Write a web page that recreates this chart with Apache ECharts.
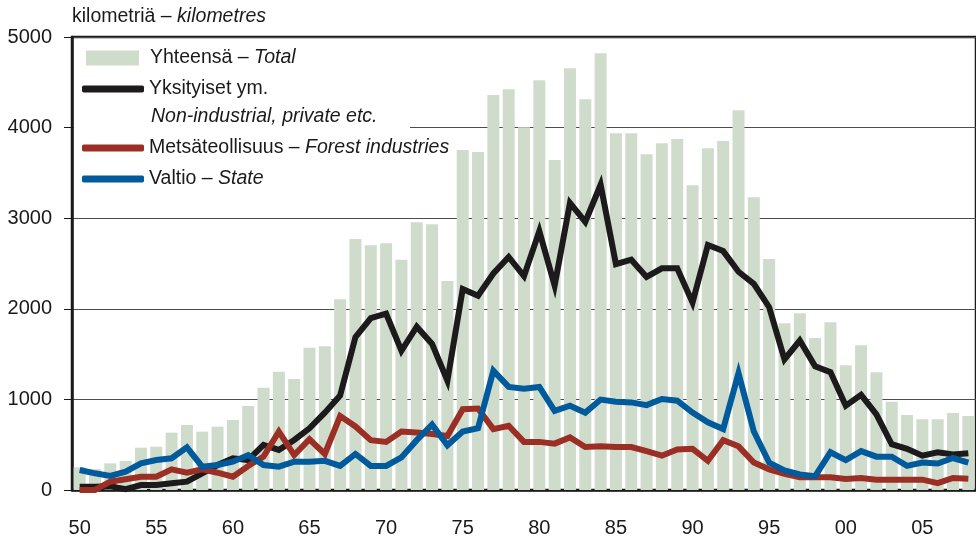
<!DOCTYPE html>
<html>
<head>
<meta charset="utf-8">
<script src="https://cdn.jsdelivr.net/npm/echarts@6/dist/echarts.min.js"></script>
<style>
html, body { margin: 0; padding: 0; background: #fff; }
#chart { width: 976px; height: 539px; }
</style>
</head>
<body>
<div id="chart"></div>
<script>
var years = ['1950','1951','1952','1953','1954','1955','1956','1957','1958','1959',
    '1960','1961','1962','1963','1964','1965','1966','1967','1968','1969',
    '1970','1971','1972','1973','1974','1975','1976','1977','1978','1979',
    '1980','1981','1982','1983','1984','1985','1986','1987','1988','1989',
    '1990','1991','1992','1993','1994','1995','1996','1997','1998','1999',
    '2000','2001','2002','2003','2004','2005','2006','2007','2008'];

// Yhteensä - Total
var total = [250,230,294,320,467,478,633,717,644,699,
    773,927,1129,1306,1225,1571,1586,2106,2770,2701,
    2724,2542,2956,2933,2307,3752,3730,4359,4424,4003,
    4522,3642,4655,4314,4822,3938,3938,3707,3828,3874,
    3365,3771,3851,4192,3232,2550,1840,1950,1677,1851,
    1377,1597,1301,975,827,782,782,850,816];

// Yksityiset ym. - Non-industrial, private etc.
var privateEtc = [37,37,40,10,55,55,74,92,184,276,
    350,331,497,442,552,681,854,1043,1688,1897,
    1946,1537,1802,1612,1206,2219,2144,2390,2572,2360,
    2857,2257,3168,2959,3369,2493,2542,2352,2447,2447,
    2068,2705,2637,2409,2276,2018,1442,1650,1366,1301,
    930,1051,835,505,455,379,417,391,406];

// Metsäteollisuus - Forest industries
var forestInd = [0,0,92,118,147,147,228,191,228,191,
    147,265,368,644,386,560,398,816,702,550,
    531,645,634,618,596,892,899,672,709,531,
    531,512,580,474,482,474,474,429,379,448,
    455,322,550,482,303,228,178,140,140,140,
    121,133,114,114,114,114,76,133,125];

// Valtio - State
var state = [221,184,155,202,294,331,350,471,257,276,
    313,386,276,257,313,313,322,266,398,266,
    266,360,550,721,493,645,683,1317,1138,1119,
    1138,873,930,854,998,975,967,937,1005,986,
    854,747,672,1290,645,303,216,171,152,417,
    330,429,368,368,266,303,292,353,303];

var yTicks = [0, 1000, 2000, 3000, 4000, 5000];
var xTickLabels = ['50','55','60','65','70','75','80','85','90','95','00','05'];

var legendNames = {
    'Yhteensä': '{a|Yhteensä – }{b|Total}',
    'Yksityiset': '{a|Yksityiset ym.}',
    'Metsäteollisuus': '{a|Metsäteollisuus – }{b|Forest industries}',
    'Valtio': '{a|Valtio – }{b|State}'
};

var FONT = '"Liberation Sans", Arial, sans-serif';
var legendText = {
    fontFamily: FONT,
    fontSize: 19.5,
    color: '#1a1a1a',
    lineHeight: 22,
    rich: {
        a: { fontFamily: FONT, fontSize: 19.5, color: '#1a1a1a', lineHeight: 22 },
        b: { fontFamily: FONT, fontSize: 19.5, color: '#1a1a1a', lineHeight: 22, fontStyle: 'italic' }
    }
};
function fmtLegend(name) { return legendNames[name]; }
function isMajor(i) { return i % 5 === 0; }

var chart = echarts.init(document.getElementById('chart'));
var option = {
    animation: false,
    textStyle: { fontFamily: FONT },
    title: {
        text: '{a|kilometriä – }{b|kilometres}',
        left: 72,
        top: 7,
        padding: 0,
        textStyle: {
            rich: {
                a: { fontFamily: FONT, fontSize: 19.5, fontWeight: 'normal', color: '#1a1a1a' },
                b: { fontFamily: FONT, fontSize: 19.5, fontWeight: 'normal', color: '#1a1a1a', fontStyle: 'italic' }
            }
        }
    },
    grid: {
        show: true,
        left: 72,
        top: 37,
        width: 909,
        height: 453,
        borderColor: '#1a1a1a',
        borderWidth: 2.5,
        backgroundColor: 'transparent'
    },
    legend: [
        {
            data: [{ name: 'Yhteensä', icon: 'rect' }],
            left: 86, top: 47, padding: 0,
            itemWidth: 53, itemHeight: 15,
            formatter: fmtLegend,
            textStyle: echarts.util.merge({ padding: [0, 0, 0, 6] }, legendText),
            selectedMode: false
        },
        {
            data: [{ name: 'Yksityiset', icon: 'roundRect' }],
            left: 82, top: 78, padding: 0,
            itemWidth: 62, itemHeight: 7,
            formatter: fmtLegend, textStyle: legendText,
            selectedMode: false
        },
        {
            data: [{ name: 'Metsäteollisuus', icon: 'roundRect' }, { name: 'Valtio', icon: 'roundRect' }],
            left: 82, top: 137, padding: 0, orient: 'vertical',
            itemWidth: 62, itemHeight: 7, itemGap: 9,
            formatter: fmtLegend, textStyle: legendText,
            selectedMode: false
        }
    ],
    graphic: [
        {
            type: 'rect', z: 1,
            shape: { x: 74, y: 124, width: 336, height: 8 },
            style: { fill: '#fff' }
        },
        {
            type: 'text', z: 5, left: 151, top: 107,
            style: { text: 'Non-industrial, private etc.', font: 'italic 19.5px ' + FONT, fill: '#1a1a1a' }
        }
    ],
    xAxis: [
        {
            type: 'category',
            data: years,
            boundaryGap: true,
            position: 'bottom',
            axisLine: { onZero: false, lineStyle: { color: '#1a1a1a', width: 2.5 } },
            axisTick: { interval: 0, alignWithLabel: true, length: 6, lineStyle: { color: '#1a1a1a', width: 1 } },
            axisLabel: { show: false },
            splitLine: { show: false }
        },
        {
            type: 'category',
            data: years,
            boundaryGap: true,
            position: 'bottom',
            axisLine: { show: false, onZero: false },
            axisTick: { interval: isMajor, alignWithLabel: true, length: 10, lineStyle: { color: '#1a1a1a', width: 1 } },
            axisLabel: {
                interval: isMajor,
                margin: 28,
                fontFamily: FONT,
                fontSize: 20,
                color: '#1a1a1a',
                formatter: function (v, i) { return xTickLabels[i / 5]; }
            },
            splitLine: { show: false }
        }
    ],
    yAxis: {
        type: 'value',
        min: yTicks[0],
        max: yTicks[yTicks.length - 1],
        interval: 1000,
        axisLine: { show: true, lineStyle: { color: '#1a1a1a', width: 2.5 } },
        axisTick: { show: true, length: 8, lineStyle: { color: '#1a1a1a', width: 1 } },
        axisLabel: {
            margin: 20, fontFamily: FONT, fontSize: 20, color: '#1a1a1a',
            formatter: function (v) { return String(v); }
        },
        splitLine: { show: true, lineStyle: { color: '#4d4d4d', width: 1 } }
    },
    series: [
        {
            name: 'Yhteensä',
            type: 'bar',
            data: total,
            barWidth: 12,
            itemStyle: { color: '#cfdccb' }
        },
        {
            name: 'Yksityiset',
            type: 'line',
            data: privateEtc,
            showSymbol: false,
            symbol: 'none',
            lineStyle: { color: '#1c1a1b', width: 6, join: 'miter' },
            itemStyle: { color: '#1c1a1b' }
        },
        {
            name: 'Metsäteollisuus',
            type: 'line',
            data: forestInd,
            showSymbol: false,
            symbol: 'none',
            lineStyle: { color: '#9c2f25', width: 6, join: 'miter' },
            itemStyle: { color: '#9c2f25' }
        },
        {
            name: 'Valtio',
            type: 'line',
            data: state,
            showSymbol: false,
            symbol: 'none',
            lineStyle: { color: '#005a9c', width: 6, join: 'miter' },
            itemStyle: { color: '#005a9c' }
        }
    ]
};
chart.setOption(option);
</script>
</body>
</html>
